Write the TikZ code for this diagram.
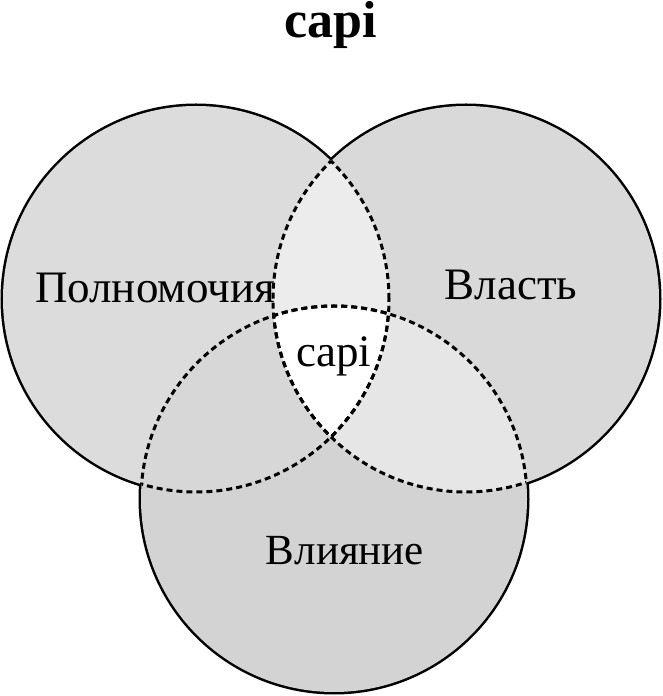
\documentclass[tikz,border=0pt]{standalone}
\usepackage{fontspec}
\setmainfont{Liberation Serif}
\definecolor{fillL}{HTML}{DCDCDC}
\definecolor{fillR}{HTML}{D9D9D9}
\definecolor{fillB}{HTML}{D3D3D3}
\definecolor{fillLR}{HTML}{ECECEC}
\definecolor{fillLB}{HTML}{D7D7D7}
\definecolor{fillRB}{HTML}{E6E6E6}
\newcommand{\circrad}{193}
\tikzset{
	outline/.style={draw=black, line width=5pt},
	inner/.style={draw=black, line width=3pt, dash pattern=on 6pt off 4pt},
	setname/.style={inner sep=0pt, anchor=base, font=\fontsize{45}{50}\selectfont},
}
\begin{document}
\begin{tikzpicture}[x=1pt,y=1pt]
	\useasboundingbox (0,0) rectangle (662,696);
	% centres of the three sets
		\coordinate (L) at (196,397);
		\coordinate (R) at (466,397);
		\coordinate (B) at (334,197);
	% outer line, the inner half gets covered by the fills
		\foreach \c in {L,R,B}
			\draw[outline] (\c) circle (\circrad);
	% fills
		\foreach \c in {L,R,B}
			\fill[fill\c] (\c) circle (\circrad);
		\foreach \a/\b in {L/R,L/B,R/B}{
			\begin{scope}
				\clip (\a) circle (\circrad);
				\fill[fill\a\b] (\b) circle (\circrad);
			\end{scope}
			}
		\begin{scope}
			\clip (L) circle (\circrad);
			\clip (R) circle (\circrad);
			\fill[white] (B) circle (\circrad);
		\end{scope}
	% dashed borders inside the overlaps
		\foreach \a/\b in {L/R,L/B,R/L,R/B,B/L,B/R}{
			\begin{scope}
				\clip (\b) circle (\circrad);
				\draw[inner] (\a) circle (\circrad);
			\end{scope}
			}
	% labels
		\node[setname, font=\fontsize{52}{60}\selectfont\bfseries] (title) at (331,658) {capi};
		\node[setname] (poln) at (155,393) {Полномочия};
		\node[setname] (vlast) at (511,396) {Власть};
		\node[setname, font=\fontsize{43}{50}\selectfont] (vliyanie) at (345,131) {Влияние};
		\node[setname] (capi) at (334,329) {capi};
\end{tikzpicture}
\end{document}
